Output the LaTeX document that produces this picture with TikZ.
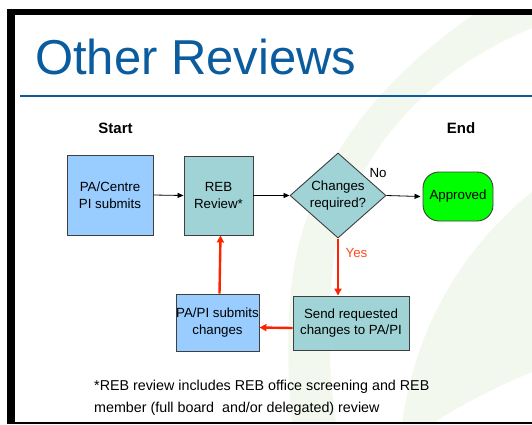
\documentclass[tikz,border=0pt]{standalone}
\usepackage{fontspec}
\setmainfont{Liberation Sans}
\usetikzlibrary{shapes.geometric,arrows.meta,calc}
\definecolor{titleblue}{HTML}{0B5C9E}
\definecolor{boxblue}{HTML}{99CCFF}
\definecolor{boxteal}{HTML}{9FD3D6}
\definecolor{okgreen}{HTML}{00FF00}
\definecolor{redarrow}{HTML}{FF2200}
\definecolor{yesred}{HTML}{FF4A1C}
\definecolor{bggreen}{HTML}{F3F8EE}
\definecolor{edgegray}{HTML}{3F3F3F}
\begin{document}
\begin{tikzpicture}[x=1pt,y=-1pt,
  nodetext/.style={font=\fontsize{13.3}{16.5}\selectfont, align=center},
  box/.style={nodetext, draw=edgegray, line width=0.9pt, inner sep=0pt},
  bluebox/.style={box, fill=boxblue},
  tealbox/.style={box, fill=boxteal},
  decision/.style={box, fill=boxteal, shape=diamond, minimum width=96pt, minimum height=85pt},
  terminal/.style={box, fill=okgreen, rounded corners=16pt, minimum width=70pt, minimum height=49pt},
  headlabel/.style={font=\bfseries\fontsize{15}{18}\selectfont, anchor=base, inner sep=0pt},
  blackarrow/.style={-{Triangle[length=6pt,width=5pt]}, line width=0.8pt, black},
  redarr/.style={-{Triangle[length=7pt,width=7pt]}, line width=2.4pt, redarrow},
]
\useasboundingbox (0,0) rectangle (532,424);
\fill[white] (0,0) rectangle (532,424);
% faint background swooshes
\fill[bggreen] (473,15) .. controls (380,80) and (300,170) .. (290,300)
  .. controls (286,350) and (290,400) .. (292,424) -- (336,424)
  .. controls (330,380) and (325,320) .. (335,250)
  .. controls (355,150) and (430,70) .. (532,28) -- (532,15) -- cycle;
\fill[bggreen] (532,192) .. controls (460,250) and (415,330) .. (402,424) -- (432,424)
  .. controls (460,405) and (500,385) .. (532,372) -- cycle;
% frame
\fill[black] (7,9) rectangle (532,15);
\fill[black] (7,9) rectangle (15,423.7);
\fill[black] (7,422.3) rectangle (532,423.7);
% title
\node[anchor=base west, text=titleblue, font=\fontsize{49}{49}\selectfont, inner sep=0pt] (title) at (35,74) {Other Reviews};
\draw[titleblue, line width=2pt] (20,95.5) -- (532,95.5);
% labels
\node[headlabel] (start) at (115.5,133) {Start};
\node[headlabel] (end) at (461,133) {End};
% nodes
\node[bluebox, minimum width=86pt, minimum height=80pt] (pac) at (110,195) {PA/Centre\\PI submits};
\node[tealbox, minimum width=69pt, minimum height=79pt] (reb) at (218.5,195.5) {REB\\Review*};
\node[decision] (dec) at (338,195.5) {Changes\\required?};
\node[terminal] (ok) at (458,196.5) {Approved};
\node[tealbox, minimum width=116pt, minimum height=54pt] (send) at (351,323) {Send requested\\changes to PA/PI};
\node[bluebox, minimum width=83pt, minimum height=57pt] (papi) at (217.5,322.5) {PA/PI submits\\changes};
% connectors
\draw[blackarrow] (pac.east) -- (reb.west);
\draw[blackarrow] (reb.east) -- (dec.west);
\draw[blackarrow] (dec.east) -- ([xshift=-2pt]ok.west);
\node[nodetext, anchor=base, inner sep=0pt] (no) at (378,177) {No};
\draw[redarr] (dec.south) -- (send.north -| dec.south);
\node[nodetext, anchor=base, inner sep=0pt, text=yesred] (yes) at (356.5,257) {Yes};
\draw[redarr] ([yshift=-5pt]send.west) -- ([yshift=-5pt]papi.east);
\draw[redarr] ([xshift=2pt]papi.north) -- ([xshift=2pt]reb.south);
% footnote
\node[anchor=base west, align=left, font=\fontsize{14.3}{22}\selectfont, inner sep=0pt] (note) at (94,412) {*REB review includes REB office screening and REB\\member (full board~ and/or delegated) review};
\end{tikzpicture}
\end{document}
